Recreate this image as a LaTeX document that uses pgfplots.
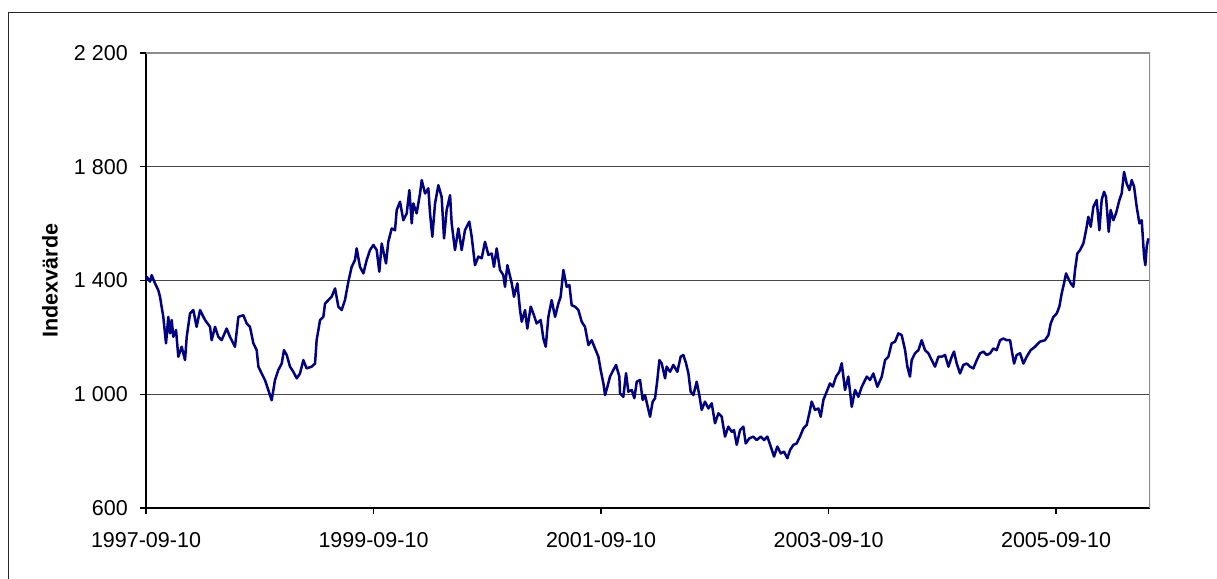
\documentclass[border=0pt]{standalone}
\usepackage{pgfplots}
\pgfplotsset{compat=1.18}
\usepackage{fontspec}
\setmainfont{Liberation Sans}
\definecolor{navy}{RGB}{0,0,128}
\definecolor{gridc}{RGB}{70,70,70}
\definecolor{boxc}{RGB}{140,140,140}
\pgfplotstableread{
t v
0.000 1400
0.006 1413
0.035 1396
0.050 1419
0.079 1390
0.108 1366
0.123 1343
0.152 1272
0.176 1179
0.196 1272
0.211 1214
0.226 1261
0.240 1202
0.264 1226
0.284 1132
0.314 1167
0.343 1120
0.358 1202
0.387 1284
0.416 1296
0.445 1237
0.475 1296
0.519 1261
0.563 1237
0.577 1190
0.607 1237
0.636 1202
0.665 1190
0.709 1231
0.738 1202
0.782 1167
0.812 1272
0.856 1278
0.885 1249
0.914 1237
0.944 1179
0.973 1155
0.988 1097
1.017 1073
1.046 1050
1.075 1015
1.105 979
1.134 1050
1.163 1085
1.193 1108
1.213 1155
1.237 1138
1.266 1097
1.295 1079
1.325 1056
1.354 1073
1.383 1120
1.412 1091
1.456 1097
1.486 1108
1.500 1190
1.530 1261
1.559 1272
1.574 1319
1.603 1331
1.632 1343
1.662 1372
1.691 1308
1.720 1296
1.749 1331
1.779 1396
1.808 1448
1.837 1472
1.852 1513
1.881 1448
1.911 1425
1.940 1472
1.969 1507
1.999 1525
2.028 1507
2.051 1431
2.072 1530
2.110 1460
2.130 1536
2.160 1583
2.189 1577
2.204 1648
2.233 1677
2.262 1612
2.292 1636
2.315 1718
2.336 1601
2.350 1671
2.379 1636
2.409 1706
2.424 1753
2.453 1706
2.482 1724
2.497 1636
2.517 1554
2.541 1671
2.570 1735
2.599 1694
2.620 1548
2.643 1648
2.673 1700
2.687 1601
2.716 1507
2.746 1583
2.775 1507
2.804 1577
2.842 1607
2.863 1554
2.892 1454
2.922 1484
2.951 1478
2.980 1536
3.010 1490
3.039 1495
3.059 1448
3.083 1513
3.112 1437
3.141 1419
3.156 1378
3.177 1454
3.215 1390
3.235 1343
3.265 1390
3.288 1296
3.303 1255
3.332 1296
3.352 1231
3.382 1308
3.405 1284
3.434 1249
3.470 1261
3.493 1196
3.514 1167
3.537 1272
3.566 1331
3.596 1272
3.625 1319
3.645 1343
3.669 1437
3.698 1378
3.722 1384
3.742 1313
3.771 1308
3.801 1296
3.830 1255
3.859 1237
3.889 1173
3.918 1190
3.947 1161
3.977 1132
3.997 1085
4.021 1038
4.035 997
4.056 1026
4.079 1062
4.108 1085
4.132 1103
4.161 1062
4.167 1003
4.196 991
4.220 1074
4.240 1009
4.270 1015
4.293 986
4.314 1044
4.343 1050
4.366 980
4.387 997
4.407 962
4.431 921
4.454 974
4.475 986
4.495 1050
4.513 1120
4.533 1109
4.563 1056
4.577 1097
4.607 1079
4.636 1103
4.671 1079
4.700 1132
4.724 1138
4.747 1109
4.768 1074
4.788 1009
4.812 997
4.841 1044
4.864 997
4.885 945
4.914 974
4.944 950
4.973 968
5.002 898
5.032 933
5.061 921
5.090 851
5.119 886
5.149 868
5.169 874
5.193 822
5.222 874
5.251 886
5.272 827
5.304 845
5.339 851
5.369 839
5.404 851
5.433 839
5.462 851
5.492 816
5.521 781
5.550 816
5.580 792
5.609 798
5.638 775
5.662 804
5.691 822
5.720 827
5.749 851
5.779 880
5.808 892
5.831 933
5.852 974
5.881 945
5.911 950
5.931 921
5.955 980
5.984 1009
6.013 1038
6.037 1027
6.066 1062
6.095 1079
6.116 1109
6.145 1015
6.174 1062
6.204 956
6.233 1015
6.262 991
6.292 1026
6.336 1062
6.365 1050
6.394 1073
6.429 1026
6.468 1062
6.497 1120
6.526 1132
6.555 1179
6.585 1185
6.614 1214
6.643 1208
6.673 1155
6.693 1097
6.716 1062
6.731 1120
6.760 1144
6.790 1155
6.819 1190
6.848 1155
6.878 1144
6.907 1120
6.936 1097
6.966 1132
6.995 1132
7.024 1138
7.054 1097
7.083 1132
7.103 1150
7.127 1108
7.156 1073
7.185 1103
7.215 1108
7.244 1097
7.273 1091
7.303 1120
7.332 1144
7.361 1150
7.391 1138
7.420 1144
7.449 1161
7.478 1155
7.508 1190
7.537 1196
7.566 1190
7.596 1190
7.610 1155
7.631 1108
7.654 1138
7.684 1144
7.713 1108
7.742 1132
7.777 1155
7.815 1167
7.859 1185
7.903 1190
7.933 1208
7.953 1249
7.977 1272
8.006 1284
8.029 1308
8.050 1355
8.070 1390
8.088 1425
8.108 1407
8.129 1390
8.152 1378
8.167 1437
8.187 1495
8.211 1507
8.240 1530
8.264 1577
8.284 1624
8.305 1589
8.328 1659
8.357 1683
8.381 1577
8.401 1683
8.422 1712
8.439 1694
8.463 1571
8.480 1648
8.504 1612
8.527 1636
8.557 1683
8.577 1706
8.598 1782
8.621 1741
8.645 1718
8.665 1753
8.686 1730
8.709 1659
8.733 1601
8.753 1612
8.774 1484
8.785 1454
8.797 1519
8.811 1548
}\indexdata
\begin{document}
\begin{tikzpicture}
\path[use as bounding box] (0,0) rectangle (1217pt,578pt);
\draw[line width=1.3pt, black!85] (8.5pt,-2pt) -- (8.5pt,565.5pt) -- (1219pt,565.5pt);
\begin{axis}[
  at={(146pt,70pt)}, anchor=south west,
  scale only axis, width=1004pt, height=455pt,
  xmin=0, xmax=8.826, ymin=600, ymax=2200,
  axis x line*=bottom, axis y line*=left,
  axis line style={line width=1.3pt, black},
  xtick={0,2,4,6,8},
  xticklabels={1997-09-10,1999-09-10,2001-09-10,2003-09-10,2005-09-10},
  ytick={600,1000,1400,1800,2200},
  yticklabels={600,1 000,1 400,1 800,2 200},
  tick align=outside, major tick length=6pt,
  tick style={line width=1.2pt, black},
  ymajorgrids, major grid style={line width=1.2pt, gridc},
  tick label style={font=\fontsize{21.5}{25}\selectfont, inner sep=0pt},
  yticklabel style={anchor=east, xshift=-12pt},
  xticklabel style={anchor=north, yshift=-18pt},
  /pgf/number format/assume math mode=true,
  ylabel={Indexvärde},
  every axis y label/.style={at={(axis description cs:-0.0956,0.5)}, rotate=90, anchor=center, font=\fontsize{21.5}{25}\selectfont\bfseries},
  clip=true,
]
\draw[line width=1.3pt, boxc] (rel axis cs:0,1) -- (rel axis cs:1,1) -- (rel axis cs:1,0);
\addplot[navy, line width=2.5pt, line join=round] table[x=t, y=v] {\indexdata};
\end{axis}
\end{tikzpicture}
\end{document}
